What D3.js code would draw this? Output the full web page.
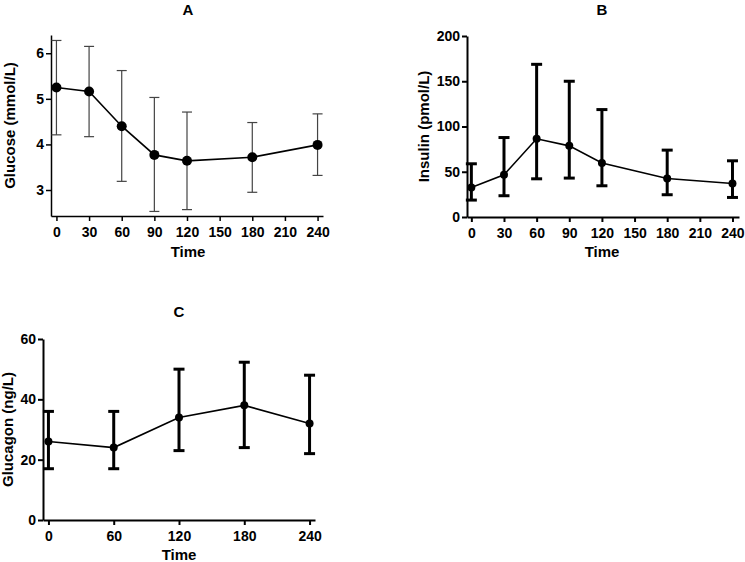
<!DOCTYPE html>
<html>
<head>
<meta charset="utf-8">
<script src="https://cdn.jsdelivr.net/npm/d3@7"></script>
<style>
  html, body { margin: 0; padding: 0; background: #fff; }
  svg { display: block; }
  text { font-family: "Liberation Sans", Arial, sans-serif; font-weight: bold; fill: #000; }
</style>
</head>
<body>
<svg id="chart" width="745" height="562"></svg>
<script>
// ---------- Data ----------
const timeA = [0, 30, 60, 90, 120, 180, 240];
const glucoseMean = [5.25, 5.16, 4.40, 3.77, 3.64, 3.72, 3.99];
const glucoseLow  = [4.21, 4.17, 3.19, 2.53, 2.57, 2.95, 3.32];
const glucoseHigh = [6.28, 6.15, 5.62, 5.03, 4.71, 4.48, 4.67];
const ticksA = [0, 30, 60, 90, 120, 150, 180, 210, 240];
const yTicksA = [3, 4, 5, 6];

const timeB = [0, 30, 60, 90, 120, 180, 240];
const insulinMean = [32.6, 46.7, 86.4, 78.6, 59.6, 42.6, 37.1];
const insulinLow  = [18.7, 23.5, 42.2, 43.0, 34.5, 24.6, 21.6];
const insulinHigh = [58.8, 87.8, 168.7, 150.0, 118.7, 73.9, 62.1];
const ticksB = [0, 30, 60, 90, 120, 150, 180, 210, 240];
const yTicksB = [0, 50, 100, 150, 200];

const timeC = [0, 60, 120, 180, 240];
const glucagonMean = [26, 24, 34, 38, 32];
const glucagonLow  = [17, 17, 23, 24, 22];
const glucagonHigh = [36, 36, 50, 52.3, 48];
const ticksC = [0, 60, 120, 180, 240];
const yTicksC = [0, 20, 40, 60];

const svg = d3.select("#chart");

function panel(cfg) {
  const x = d3.scaleLinear().domain(cfg.xDomain).range([cfg.left, cfg.right]);
  const y = d3.scaleLinear().domain(cfg.yDomain).range([cfg.bottom, cfg.top]);
  const g = svg.append("g");

  // axes
  const xAxis = d3.axisBottom(x).tickValues(cfg.xTicks).tickFormat(d3.format("d")).tickSize(5).tickSizeOuter(0).tickPadding(6);
  const yAxis = d3.axisLeft(y).tickValues(cfg.yTicks).tickFormat(d3.format("d")).tickSize(5).tickSizeOuter(0).tickPadding(2);
  const gx = g.append("g").attr("transform", `translate(0,${cfg.bottom})`).call(xAxis);
  const gy = g.append("g").attr("transform", `translate(${cfg.left},0)`).call(yAxis);
  [gx, gy].forEach(a => {
    a.select(".domain").attr("stroke", "#000").attr("stroke-width", cfg.axisW);
    a.selectAll(".tick line").attr("stroke", "#000").attr("stroke-width", cfg.axisW);
    a.selectAll(".tick text").style("font-size", "14px").style("font-family", "Liberation Sans, Arial, sans-serif").style("font-weight", "bold").attr("fill", "#000");
  });

  const data = cfg.t.map((t, i) => ({ t, m: cfg.mean[i], lo: cfg.low[i], hi: cfg.high[i] }));

  // error bars
  const eb = g.append("g").attr("stroke", cfg.ebColor).attr("stroke-width", cfg.ebW).attr("fill", "none");
  data.forEach(d => {
    eb.append("line").attr("x1", x(d.t)).attr("x2", x(d.t)).attr("y1", y(d.lo)).attr("y2", y(d.hi));
    eb.append("line").attr("x1", x(d.t) - cfg.cap).attr("x2", x(d.t) + cfg.cap).attr("y1", y(d.lo)).attr("y2", y(d.lo));
    eb.append("line").attr("x1", x(d.t) - cfg.cap).attr("x2", x(d.t) + cfg.cap).attr("y1", y(d.hi)).attr("y2", y(d.hi));
  });

  // line
  g.append("path").datum(data)
    .attr("fill", "none").attr("stroke", "#000").attr("stroke-width", cfg.lineW)
    .attr("d", d3.line().x(d => x(d.t)).y(d => y(d.m)));

  // markers
  g.selectAll("circle.pt").data(data).enter().append("circle")
    .attr("cx", d => x(d.t)).attr("cy", d => y(d.m)).attr("r", cfg.r).attr("fill", "#000");

  // titles
  g.append("text").attr("x", cfg.titleX).attr("y", cfg.titleY).attr("text-anchor", "middle")
    .style("font-size", "15px").text(cfg.title);
  g.append("text").attr("x", cfg.titleX).attr("y", cfg.xLabelY).attr("text-anchor", "middle")
    .style("font-size", "15px").text("Time");
  g.append("text").attr("transform", `translate(${cfg.yLabelX},${(cfg.top + cfg.bottom) / 2}) rotate(-90)`)
    .attr("text-anchor", "middle").style("font-size", "15px").text(cfg.yLabel);
}

panel({
  t: timeA, mean: glucoseMean, low: glucoseLow, high: glucoseHigh,
  xDomain: [-5, 245], yDomain: [2.43, 6.4],
  left: 51, right: 323, top: 35, bottom: 216,
  xTicks: ticksA, yTicks: yTicksA,
  axisW: 1.5, ebW: 1.2, ebColor: "#444", cap: 5, lineW: 1.6, r: 5,
  title: "A", titleX: 188, titleY: 15, xLabelY: 257, yLabelX: 15,
  yLabel: "Glucose (mmol/L)"
});

panel({
  t: timeB, mean: insulinMean, low: insulinLow, high: insulinHigh,
  xDomain: [-4, 246], yDomain: [0, 200],
  left: 467, right: 739, top: 36, bottom: 217,
  xTicks: ticksB, yTicks: yTicksB,
  axisW: 2, ebW: 3, ebColor: "#000", cap: 5.5, lineW: 1.6, r: 4,
  title: "B", titleX: 602, titleY: 15, xLabelY: 257, yLabelX: 429,
  yLabel: "Insulin (pmol/L)"
});

panel({
  t: timeC, mean: glucagonMean, low: glucagonLow, high: glucagonHigh,
  xDomain: [-5, 245], yDomain: [0, 60],
  left: 43, right: 315, top: 339, bottom: 520,
  xTicks: ticksC, yTicks: yTicksC,
  axisW: 2, ebW: 3, ebColor: "#000", cap: 5.5, lineW: 1.6, r: 4,
  title: "C", titleX: 179, titleY: 317, xLabelY: 560, yLabelX: 13,
  yLabel: "Glucagon (ng/L)"
});
</script>
</body>
</html>
